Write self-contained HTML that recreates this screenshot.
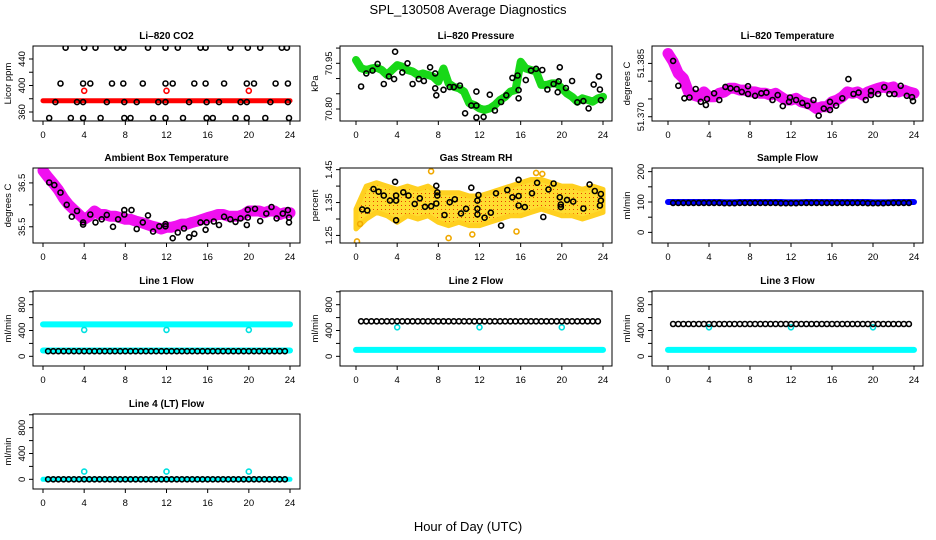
<!DOCTYPE html>
<html><head><meta charset="utf-8">
<style>
html,body{margin:0;padding:0;background:#fff;}
svg{display:block;font-family:"Liberation Sans",sans-serif;}
</style></head>
<body>
<svg id="chart" width="936" height="540" viewBox="0 0 936 540" xmlns="http://www.w3.org/2000/svg">
<defs>
<pattern id="rhpat" width="4" height="4" patternUnits="userSpaceOnUse">
<rect width="4" height="4" fill="#ffdc30"/>
<rect x="1" y="1" width="1" height="1" fill="#e84000"/>
</pattern>
</defs>
<text x="468" y="14" font-size="13" text-anchor="middle">SPL_130508  Average Diagnostics</text>
<text x="468" y="531" font-size="13" text-anchor="middle">Hour of Day (UTC)</text>
</svg>
<script>
// ---------- shared time arrays ----------
const T = [0,0.5,1,1.5,2,2.5,3,3.5,4,4.5,5,5.5,6,6.5,7,7.5,8,8.5,9,9.5,10,10.5,11,11.5,12,12.5,13,13.5,14,14.5,15,15.5,16,16.5,17,17.5,18,18.5,19,19.5,20,20.5,21,21.5,22,22.5,23,23.5,24];
const BT = [0.5,1,1.5,2,2.5,3,3.5,4,4.5,5,5.5,6,6.5,7,7.5,8,8.5,9,9.5,10,10.5,11,11.5,12,12.5,13,13.5,14,14.5,15,15.5,16,16.5,17,17.5,18,18.5,19,19.5,20,20.5,21,21.5,22,22.5,23,23.5];
const xTicks = [0,4,8,12,16,20,24];
const dipT = [4,12,20];

// ---------- CO2 ----------
const co2Red = [377,377,377,377,377,377,377,377,377,377,377,377,377,377,377,377,377,377,377,377,377,377,377,377,377,377,377,377,377,377,377,377,377,377,377,377,377,377,377,377,377,377,377,377,377,377,377,377,377];
const co2RedOut = [392,392,392];
const co2BlkT = [2.2,4.0,5.1,7.2,7.8,10.2,11.9,13.1,15.3,15.8,18.2,19.9,21.1,23.2,23.7, 1.7,3.9,4.6,6.7,7.8,9.7,11.9,12.6,14.7,15.8,17.6,19.8,20.5,22.6,23.8, 1.2,3.3,3.9,6.2,7.9,9.1,11.2,11.9,14.2,15.9,17.1,19.2,19.8,22.1,23.8, 0.6,2.7,3.9,5.6,7.9,8.5,10.7,11.9,13.6,15.9,16.5,18.7,19.8,21.6,23.9];
const co2BlkV = [457,457,457,457,457,457,457,457,457,457,457,457,457,457,457, 403,403,403,403,403,403,403,403,403,403,403,403,403,403,403, 375,375,375,375,375,375,375,375,375,375,375,375,375,375,375, 351,351,351,351,351,351,351,351,351,351,351,351,351,351,351];

// ---------- Pressure ----------
const presGreen = [70.961,70.934,70.928,70.933,70.936,70.928,70.912,70.928,70.944,70.939,70.928,70.923,70.912,70.917,70.912,70.906,70.890,70.933,70.884,70.873,70.868,70.857,70.819,70.813,70.802,70.797,70.802,70.813,70.830,70.840,70.857,70.862,70.955,70.933,70.928,70.923,70.879,70.879,70.884,70.884,70.868,70.851,70.840,70.824,70.835,70.830,70.824,70.835,70.840];
const presBlkT = [0.5,1.0,1.6,2.1,2.7,3.2,3.8,3.7,4.5,5.0,5.5,6.1,6.6,7.2,7.7,7.7,7.8,8.5,9.1,9.5,10.1,10.6,11.2,11.7,11.7,11.7,12.4,13.0,13.5,14.1,14.6,15.2,15.7,15.8,15.8,16.5,17.0,17.5,18.1,18.6,19.2,19.7,19.6,19.8,20.4,21.0,21.5,22.1,22.6,23.1,23.6,23.7,23.8];
const presBlkV = [70.874,70.917,70.926,70.948,70.882,70.907,70.988,70.898,70.920,70.950,70.882,70.898,70.892,70.937,70.868,70.917,70.845,70.863,70.872,70.872,70.877,70.786,70.811,70.811,70.772,70.857,70.774,70.847,70.795,70.823,70.845,70.902,70.910,70.862,70.835,70.895,70.926,70.932,70.928,70.864,70.882,70.891,70.855,70.937,70.869,70.892,70.822,70.826,70.802,70.880,70.907,70.864,70.829];

// ---------- Li-820 temperature ----------
const tempMag = [51.3878,51.3855,51.3822,51.3808,51.3770,51.3761,51.3756,51.3770,51.3756,51.3756,51.3766,51.3770,51.3780,51.3780,51.3775,51.3775,51.3770,51.3770,51.3766,51.3766,51.3761,51.3766,51.3756,51.3747,51.3747,51.3752,51.3742,51.3738,51.3733,51.3723,51.3728,51.3728,51.3742,51.3747,51.3756,51.3770,51.3766,51.3770,51.3761,51.3770,51.3775,51.3780,51.3784,51.3780,51.3784,51.3770,51.3775,51.3770,51.3766];
const tempBlkT = [0.5,1.0,1.6,2.1,2.7,3.2,3.7,3.8,4.5,5.0,5.6,6.1,6.7,7.2,7.8,7.8,8.5,9.1,9.6,10.2,10.7,11.2,11.8,11.9,12.5,13.1,13.6,14.2,14.7,15.2,15.8,15.8,16.4,17.0,17.6,18.1,18.6,19.3,19.8,19.8,20.5,21.1,21.6,22.1,22.7,23.3,23.8,23.9];
const tempBlkV = [51.3857,51.3787,51.3752,51.3754,51.3778,51.3742,51.3733,51.3750,51.3766,51.3747,51.3784,51.3780,51.3778,51.3770,51.3786,51.3764,51.3759,51.3766,51.3768,51.3747,51.3761,51.3730,51.3742,51.3754,51.3747,51.3739,51.3731,51.3747,51.3703,51.3723,51.3719,51.3742,51.3731,51.3752,51.3806,51.3764,51.3768,51.3747,51.3761,51.3772,51.3764,51.3783,51.3764,51.3764,51.3787,51.3759,51.3755,51.3744];

// ---------- Ambient box temperature ----------
const ambMag = [36.78,36.63,36.49,36.34,36.15,36.00,35.89,35.78,35.67,35.74,35.86,35.78,35.78,35.74,35.74,35.71,35.67,35.67,35.63,35.60,35.56,35.52,35.49,35.45,35.49,35.49,35.52,35.56,35.56,35.60,35.63,35.67,35.71,35.74,35.78,35.78,35.74,35.74,35.74,35.78,35.86,35.86,35.86,35.82,35.86,35.86,35.78,35.82,35.82];
const ambBlkT = [0.6,1.1,1.7,2.3,2.8,3.3,3.9,3.9,4.6,5.1,5.7,6.2,6.8,7.3,7.9,7.9,8.6,9.1,9.7,10.2,10.7,11.3,11.9,11.9,12.6,13.1,13.7,14.2,14.7,15.3,15.8,15.9,16.6,17.1,17.6,18.2,18.7,19.2,19.8,19.9,19.9,20.6,21.1,21.7,22.2,22.7,23.3,23.8,23.9,23.9];
const ambBlkV = [36.51,36.45,36.28,36.00,35.73,35.86,35.60,35.55,35.78,35.60,35.67,35.77,35.50,35.67,35.88,35.78,35.88,35.45,35.60,35.76,35.39,35.51,35.56,35.51,35.24,35.37,35.46,35.26,35.34,35.60,35.43,35.60,35.62,35.54,35.73,35.67,35.61,35.69,35.54,35.71,35.89,35.91,35.63,35.80,35.95,35.69,35.80,35.88,35.60,35.71];

// ---------- Gas stream RH ----------
const rhT = [0,1,2,3,4,5,6,7,8,9,10,11,12,13,14,15,16,17,18,19,20,21,22,23,24];
const rhLow = [1.27,1.30,1.32,1.31,1.29,1.31,1.30,1.31,1.29,1.28,1.29,1.28,1.28,1.29,1.30,1.31,1.31,1.32,1.33,1.32,1.31,1.31,1.30,1.31,1.32];
const rhHigh = [1.33,1.40,1.41,1.40,1.39,1.40,1.39,1.40,1.38,1.38,1.38,1.37,1.37,1.38,1.39,1.40,1.41,1.42,1.42,1.41,1.40,1.40,1.39,1.40,1.39];
const rhOutT = [0.1,7.3,9.0,11.3,17.5,18.1,15.6,0.4];
const rhOutV = [1.232,1.445,1.242,1.253,1.440,1.437,1.262,1.285];
const rhBlkT = [0.6,1.1,1.7,2.2,2.7,3.3,3.8,3.9,3.9,3.9,4.6,5.1,5.7,6.2,6.7,7.3,7.8,7.8,7.9,7.9,8.6,9.1,9.6,10.2,10.7,11.2,11.8,11.8,11.8,11.9,12.5,13.1,13.6,14.1,14.7,15.2,15.8,15.8,15.8,16.4,17.1,17.6,18.2,18.7,19.2,19.8,19.9,19.9,20.5,21.1,22.1,22.7,23.2,23.7,23.8,23.8];
const rhBlkV = [1.329,1.326,1.391,1.383,1.371,1.356,1.413,1.371,1.356,1.296,1.381,1.371,1.346,1.363,1.337,1.339,1.347,1.401,1.381,1.371,1.312,1.351,1.360,1.317,1.331,1.395,1.331,1.314,1.356,1.373,1.304,1.319,1.378,1.280,1.388,1.366,1.419,1.370,1.341,1.336,1.378,1.410,1.306,1.390,1.408,1.366,1.344,1.336,1.358,1.353,1.332,1.405,1.385,1.341,1.356,1.376];

// ---------- Sample flow ----------
const sampBlue = [100,100,100,100,100,100,100,100,100,100,100,99,99,99,100,100,100,100,100,100,100,100,100,99,99,99,99,100,100,100,100,100,100,100,100,100,100,100,100,100,99,99,99,99,100,100,100,100,100];
const sampBlk = [97,97,97,97,97,97,97,97,97,97,96,96,96,97,97,97,97,97,97,97,97,96,96,96,96,97,97,97,97,97,97,97,97,97,97,97,97,97,96,96,96,96,97,97,97,97,97];

// ---------- Line flows ----------
const l1Cyan = [495,495,495,495,495,495,495,495,495,495,495,495,495,495,495,495,495,495,495,495,495,495,495,495,495,495,495,495,495,495,495,495,495,495,495,495,495,495,495,495,495,495,495,495,495,495,495,495,495];
const l1CyanLow = [90,90,90,90,90,90,90,90,90,90,90,90,90,90,90,90,90,90,90,90,90,90,90,90,90,90,90,90,90,90,90,90,90,90,90,90,90,90,90,90,90,90,90,90,90,90,90,90,90];
const l1Dip = [410,410,410];
const l1Blk = [80,80,80,80,80,80,80,80,80,80,80,80,80,80,80,80,80,80,80,80,80,80,80,80,80,80,80,80,80,80,80,80,80,80,80,80,80,80,80,80,80,80,80,80,80,80,80];

const l2CyanLow = [100,100,100,100,100,100,100,100,100,100,100,100,100,100,100,100,100,100,100,100,100,100,100,100,100,100,100,100,100,100,100,100,100,100,100,100,100,100,100,100,100,100,100,100,100,100,100,100,100];
const l2Dip = [450,450,450];
const l2Blk = [543,543,543,543,543,543,543,543,543,543,543,543,543,543,543,543,543,543,543,543,543,543,543,543,543,543,543,543,543,543,543,543,543,543,543,543,543,543,543,543,543,543,543,543,543,543,543];

const l3CyanLow = [100,100,100,100,100,100,100,100,100,100,100,100,100,100,100,100,100,100,100,100,100,100,100,100,100,100,100,100,100,100,100,100,100,100,100,100,100,100,100,100,100,100,100,100,100,100,100,100,100];
const l3Dip = [450,450,450];
const l3Blk = [500,500,500,500,500,500,500,500,500,500,500,500,500,500,500,500,500,500,500,500,500,500,500,500,500,500,500,500,500,500,500,500,500,500,500,500,500,500,500,500,500,500,500,500,500,500,500];

const l4Cyan = [0,0,0,0,0,0,0,0,0,0,0,0,0,0,0,0,0,0,0,0,0,0,0,0,0,0,0,0,0,0,0,0,0,0,0,0,0,0,0,0,0,0,0,0,0,0,0,0,0];
const l4Spike = [120,120,120];
const l4Blk = [0,0,0,0,0,0,0,0,0,0,0,0,0,0,0,0,0,0,0,0,0,0,0,0,0,0,0,0,0,0,0,0,0,0,0,0,0,0,0,0,0,0,0,0,0,0,0];

// ---------- layout ----------
const NS = 'http://www.w3.org/2000/svg';
const svg = document.getElementById('chart');
const colBox = [[33,300],[340,612],[652,923]];
const colX = [[43,290],[356,603],[668,914]];
const rowTop = [46,168,291,414];
const H = 75;

function mk(tag, attrs, parent){
  const e = document.createElementNS(NS, tag);
  for (const k in attrs) e.setAttribute(k, attrs[k]);
  (parent||svg).appendChild(e);
  return e;
}

function panel(p){
  const g = mk('g', {});
  
  
  const L = colBox[p.col][0], R = colBox[p.col][1];
  const top = rowTop[p.row], bot = top + H;
  const xs = t => colX[p.col][0] + (colX[p.col][1]-colX[p.col][0]) * t / 24;
  const ys = v => bot - (v - p.lo) / (p.hi - p.lo) * H;
  const cid = 'clip-' + p.name;
  const cp = mk('clipPath', {id: cid}, g);
  mk('rect', {x: L, y: top, width: R-L, height: H}, cp);
  const data = mk('g', {'clip-path': 'url(#' + cid + ')'}, g);
  
  
  p.layers.forEach(ly => {
    if (ly.type === 'band') {
      const pts = ly.t.map((t,i) => xs(t).toFixed(1) + ',' + ys(ly.v[i]).toFixed(1)).join(' ');
      const pl = mk('polyline', {points: pts, fill: 'none', stroke: ly.color, 'stroke-width': ly.w, 'stroke-linejoin': 'round', 'stroke-linecap': 'round'}, data);
      
      
    } else if (ly.type === 'area') {
      const up = ly.t.map((t,i) => xs(t).toFixed(1) + ',' + ys(ly.hi[i]).toFixed(1));
      const dn = ly.t.map((t,i) => xs(t).toFixed(1) + ',' + ys(ly.lo[i]).toFixed(1)).reverse();
      const pg = mk('polygon', {points: up.concat(dn).join(' '), fill: ly.fill, stroke: '#ffd020', 'stroke-width': 5, 'stroke-linejoin': 'round'}, data);
      
      
    } else {
      ly.t.forEach((t,i) => {
        const c = mk('circle', {cx: xs(t).toFixed(1), cy: ys(ly.v[i]).toFixed(1), r: ly.r || 2.5, fill: 'none', stroke: ly.color, 'stroke-width': 1.6}, data);
        
        
      });
    }
  });
  const bx = mk('rect', {x: L, y: top, width: R-L, height: H, fill: 'none', stroke: '#000', 'stroke-width': 1}, g);
  
  
  const xa = mk('g', {}, g);
  
  
  mk('line', {x1: xs(0), x2: xs(24), y1: bot, y2: bot, stroke: '#000'}, xa);
  xTicks.forEach(t => {
    mk('line', {x1: xs(t), x2: xs(t), y1: bot, y2: bot+4, stroke: '#000'}, xa);
    const tx = mk('text', {x: xs(t), y: bot+17, 'font-size': 9.5, 'text-anchor': 'middle'}, xa);
    tx.textContent = t;
    
    
  });
  const ya = mk('g', {}, g);
  
  
  p.ticks.forEach(v => {
    mk('line', {x1: L, x2: L-4, y1: ys(v), y2: ys(v), stroke: '#000'}, ya);
  });
  p.labels.forEach((lab, i) => {
    const y = ys(p.labelVals[i]);
    const tx = mk('text', {x: L-8, y: y, 'font-size': 9.5, 'text-anchor': 'middle', transform: 'rotate(-90 ' + (L-8) + ' ' + y + ')'}, ya);
    tx.textContent = lab;
    
    
  });
  const yt = mk('text', {x: L-22, y: (top+bot)/2, 'font-size': 9.5, 'text-anchor': 'middle', transform: 'rotate(-90 ' + (L-22) + ' ' + (top+bot)/2 + ')'}, ya);
  yt.textContent = p.ylab;
  
  
  const tt = mk('text', {x: (L+R)/2, y: top-7, 'font-size': 10, 'font-weight': 'bold', 'text-anchor': 'middle'}, g);
  tt.textContent = p.title;
  
  
}

const flowTicks = [0,200,400,600,800,1000];
const flowLabVals = [0,400,800];
const flowLabs = ['0','400','800'];

panel({name:'co2-panel', col:0, row:0, lo:346.4, hi:459.6, title:'Li\u2013820 CO2', ylab:'Licor ppm',
  ticks:[360,380,400,420,440], labelVals:[360,400,440], labels:['360','400','440'],
  layers:[
    {type:'band', name:'co2-red-band', t:T, v:co2Red, color:'#ff0000', w:5},
    {type:'pts', name:'co2-red-outlier', t:dipT, v:co2RedOut, color:'#ff0000'},
    {type:'pts', name:'co2-black-point', t:co2BlkT, v:co2BlkV, color:'#000'}
  ]});
panel({name:'pressure-panel', col:1, row:0, lo:70.7606, hi:71.0068, title:'Li\u2013820 Pressure', ylab:'kPa',
  ticks:[70.80,70.85,70.90,70.95,71.00], labelVals:[70.80,70.95], labels:['70.80','70.95'],
  layers:[
    {type:'band', name:'pressure-green-band', t:T, v:presGreen, color:'#18d818', w:8},
    {type:'pts', name:'pressure-black-point', t:presBlkT, v:presBlkV, color:'#000'}
  ]});
panel({name:'li820-temp-panel', col:2, row:0, lo:51.3688, hi:51.3899, title:'Li\u2013820 Temperature', ylab:'degrees C',
  ticks:[51.370,51.375,51.380,51.385], labelVals:[51.370,51.385], labels:['51.370','51.385'],
  layers:[
    {type:'band', name:'temp-magenta-band', t:T, v:tempMag, color:'#f010f0', w:11},
    {type:'pts', name:'temp-black-point', t:tempBlkT, v:tempBlkV, color:'#000'}
  ]});
panel({name:'ambient-temp-panel', col:0, row:1, lo:35.13, hi:36.84, title:'Ambient Box Temperature', ylab:'degrees C',
  ticks:[35.5,36.0,36.5], labelVals:[35.5,36.5], labels:['35.5','36.5'],
  layers:[
    {type:'band', name:'ambient-magenta-band', t:T, v:ambMag, color:'#f010f0', w:11},
    {type:'pts', name:'ambient-black-point', t:ambBlkT, v:ambBlkV, color:'#000'}
  ]});
panel({name:'rh-panel', col:1, row:1, lo:1.227, hi:1.455, title:'Gas Stream RH', ylab:'percent',
  ticks:[1.25,1.30,1.35,1.40,1.45], labelVals:[1.25,1.35,1.45], labels:['1.25','1.35','1.45'],
  layers:[
    {type:'area', name:'rh-orange-cloud', t:rhT, lo:rhLow, hi:rhHigh, fill:'url(#rhpat)'},
    {type:'pts', name:'rh-outlier', t:rhOutT, v:rhOutV, color:'#f0a800'},
    {type:'pts', name:'rh-black-point', t:rhBlkT, v:rhBlkV, color:'#000'}
  ]});
panel({name:'sample-flow-panel', col:2, row:1, lo:-35, hi:212, title:'Sample Flow', ylab:'ml/min',
  ticks:[0,50,100,150,200], labelVals:[0,100,200], labels:['0','100','200'],
  layers:[
    {type:'band', name:'sample-blue-band', t:T, v:sampBlue, color:'#0000ff', w:6},
    {type:'pts', name:'sample-black-point', t:BT, v:sampBlk, color:'#000'}
  ]});
panel({name:'line1-flow-panel', col:0, row:2, lo:-150, hi:1012, title:'Line 1 Flow', ylab:'ml/min',
  ticks:flowTicks, labelVals:flowLabVals, labels:flowLabs,
  layers:[
    {type:'band', name:'line1-cyan-band', t:T, v:l1Cyan, color:'#00ffff', w:6},
    {type:'pts', name:'line1-cyan-dip', t:dipT, v:l1Dip, color:'#00e0e0'},
    {type:'band', name:'line1-cyan-low-band', t:T, v:l1CyanLow, color:'#00ffff', w:6},
    {type:'pts', name:'line1-black-point', t:BT, v:l1Blk, color:'#000'}
  ]});
panel({name:'line2-flow-panel', col:1, row:2, lo:-150, hi:1012, title:'Line 2 Flow', ylab:'ml/min',
  ticks:flowTicks, labelVals:flowLabVals, labels:flowLabs,
  layers:[
    {type:'band', name:'line2-cyan-low-band', t:T, v:l2CyanLow, color:'#00ffff', w:6},
    {type:'pts', name:'line2-cyan-dip', t:dipT, v:l2Dip, color:'#00e0e0'},
    {type:'pts', name:'line2-black-point', t:BT, v:l2Blk, color:'#000'}
  ]});
panel({name:'line3-flow-panel', col:2, row:2, lo:-150, hi:1012, title:'Line 3 Flow', ylab:'ml/min',
  ticks:flowTicks, labelVals:flowLabVals, labels:flowLabs,
  layers:[
    {type:'band', name:'line3-cyan-low-band', t:T, v:l3CyanLow, color:'#00ffff', w:6},
    {type:'pts', name:'line3-cyan-dip', t:dipT, v:l3Dip, color:'#00e0e0'},
    {type:'pts', name:'line3-black-point', t:BT, v:l3Blk, color:'#000'}
  ]});
panel({name:'line4-flow-panel', col:0, row:3, lo:-150, hi:1012, title:'Line 4 (LT) Flow', ylab:'ml/min',
  ticks:flowTicks, labelVals:flowLabVals, labels:flowLabs,
  layers:[
    {type:'band', name:'line4-cyan-band', t:T, v:l4Cyan, color:'#00ffff', w:5},
    {type:'pts', name:'line4-cyan-spike', t:dipT, v:l4Spike, color:'#00e0e0'},
    {type:'pts', name:'line4-black-point', t:BT, v:l4Blk, color:'#000'}
  ]});
</script>
</body></html>
